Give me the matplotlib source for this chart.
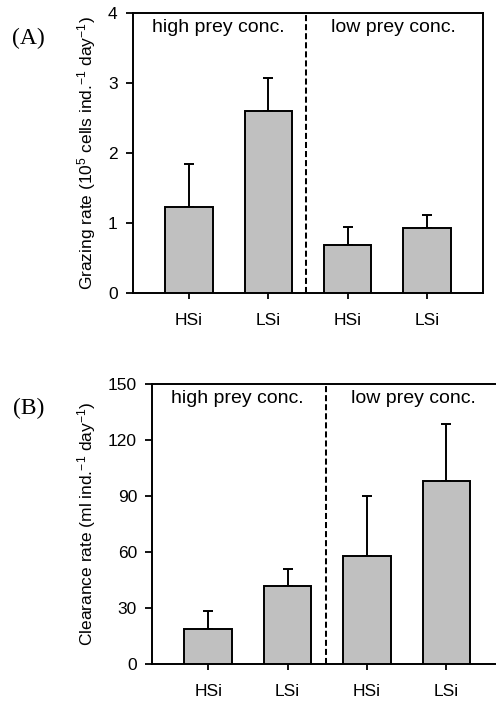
import matplotlib
matplotlib.use("Agg")
import matplotlib.pyplot as plt

plt.rcParams['font.family'] = ['Liberation Sans', 'DejaVu Sans']
plt.rcParams['mathtext.fontset'] = 'custom'
plt.rcParams['mathtext.rm'] = 'Liberation Sans'
plt.rcParams['mathtext.it'] = 'Liberation Sans:italic'
plt.rcParams['mathtext.bf'] = 'Liberation Sans:bold'

categories = ['HSi', 'LSi', 'HSi', 'LSi']
groups = ['high prey conc.', 'low prey conc.']

graze_mean = [1.24, 2.60, 0.69, 0.93]
graze_err = [0.61, 0.48, 0.26, 0.19]
graze_ticks = [0, 1, 2, 3, 4]

clear_mean = [18.6, 41.5, 57.8, 97.8]
clear_err = [9.8, 9.3, 32.1, 30.6]
clear_ticks = [0, 30, 60, 90, 120, 150]

W, H = 496, 704
fig = plt.figure(figsize=(W / 100, H / 100), dpi=100)

def panel(rect, means, errs, yticks, ylabel, label_x, panel_label, panel_xy, right_spine):
    ax = fig.add_axes(rect)
    x = list(range(len(categories)))
    ax.bar(x, means, width=0.6, color='#c0c0c0', edgecolor='black', linewidth=1.4, zorder=3)
    ax.errorbar(x, means, yerr=[[0] * len(errs), errs], fmt='none', ecolor='black',
                elinewidth=1.4, capsize=3.3, capthick=1.4, zorder=2)
    ax.set_xlim(-0.705, 3.705)
    ax.set_ylim(yticks[0], yticks[-1])
    ax.set_yticks(yticks)
    ax.set_xticks(x)
    ax.set_xticklabels(categories, fontsize=12.5)
    ax.tick_params(axis='y', direction='out', length=5, width=1.3, labelsize=12.5, pad=6)
    ax.tick_params(axis='x', direction='out', length=4.3, width=1.3, pad=10)
    for s in ax.spines.values():
        s.set_linewidth(1.4)
    ax.spines['right'].set_visible(right_spine)
    ax.axvline(1.48, color='black', linestyle=(0, (3.0, 1.5)), linewidth=1.45, zorder=4)
    ax.text(0.37, 0.978, groups[0], transform=ax.get_xaxis_transform(), ha='center', va='top', fontsize=14)
    ax.text(2.58, 0.978, groups[1], transform=ax.get_xaxis_transform(), ha='center', va='top', fontsize=14)
    ax.set_ylabel(ylabel, fontsize=12.5)
    ax.yaxis.set_label_coords(label_x, 0.5)
    fig.text(panel_xy[0], panel_xy[1], panel_label, family='Liberation Serif', fontsize=17,
             ha='center', va='center')
    return ax

axA = panel([133 / W, (H - 293.3) / H, 350 / W, 280 / H], graze_mean, graze_err, graze_ticks,
            'Grazing rate (10$^{5}$ cells ind.$^{-1}$ day$^{-1}$)', (98 - 133) / 350,
            '(A)', (28.5 / W, 1 - 38 / H), True)
axB = panel([152.3 / W, (H - 664) / H, 350 / W, 280.3 / H], clear_mean, clear_err, clear_ticks,
            'Clearance rate (ml ind.$^{-1}$ day$^{-1}$)', (98 - 152.3) / 350,
            '(B)', (29 / W, 1 - 408 / H), False)

fig.savefig('out.png', dpi=100)
